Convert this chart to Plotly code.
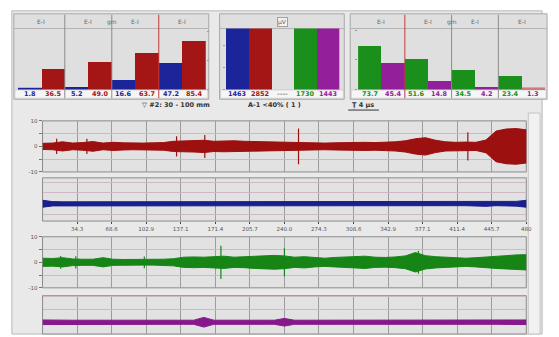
import plotly.graph_objects as go

# ---------------- data ----------------
header_labels = ["E-I", "E-I", "gm", "E-I", "E-I"]
left_blue = [1.8, 5.2, 16.6, 47.2]
left_red = [36.5, 49.0, 63.7, 85.4]
mid_values = [1463, 2852, None, 1730, 1443]
mid_labels = ["1463", "2852", "----", "1730", "1443"]
right_green = [73.7, 51.6, 34.5, 23.4]
right_purple = [45.4, 14.8, 4.2, 1.3]

info_texts = ["\u25bd #2: 30 - 100 mm", "A-1 <40% ( 1 )", "\u0162 4 \u03bcs"]

x_tick_labels = ["34.3", "68.6", "102.9", "137.1", "171.4", "205.7", "240.0",
                 "274.3", "308.6", "342.9", "377.1", "411.4", "445.7", "480"]
x_tick_vals = [34.29, 68.57, 102.86, 137.14, 171.43, 205.71, 240.0,
               274.29, 308.57, 342.86, 377.14, 411.43, 445.71, 480.0]

env_time = list(range(0, 481, 10))
red_env = [1.2, 1.3, 1.8, 1.3, 1.5, 1.9, 1.3, 1.6, 1.4, 1.3, 1.3, 1.4, 1.5, 2.0,
           2.1, 2.2, 2.4, 2.0, 2.1, 2.2, 2.0, 1.9, 1.8, 1.7, 1.6, 1.7, 1.5, 1.4,
           1.3, 1.4, 1.5, 1.6, 1.6, 1.5, 1.6, 1.8, 2.2, 3.0, 3.4, 2.4, 1.8, 1.6,
           1.7, 1.6, 2.5, 6.0, 6.8, 7.0, 6.5]
blue_env = [1.6, 1.0, 0.9, 0.9, 0.9, 0.9, 0.9, 0.9, 0.9, 0.9, 1.2, 0.9, 0.9, 0.9,
            0.9, 0.9, 0.9, 0.9, 0.9, 0.9, 0.9, 0.9, 0.9, 0.9, 0.9, 0.9, 0.9, 1.1,
            0.9, 0.9, 0.9, 0.9, 0.9, 0.9, 0.9, 0.9, 0.9, 0.9, 0.9, 0.9, 0.9, 0.9,
            0.9, 0.9, 1.2, 0.9, 0.9, 1.1, 1.6]
green_env = [1.6, 1.5, 1.8, 1.3, 1.2, 1.2, 1.8, 1.2, 1.1, 1.1, 1.1, 1.1, 1.2, 1.4,
             2.0, 2.1, 2.0, 2.2, 2.4, 2.0, 2.1, 2.4, 2.6, 2.7, 2.5, 2.0, 2.2, 1.8,
             1.6, 1.9, 2.0, 2.2, 2.4, 2.0, 1.9, 2.1, 2.5, 3.8, 2.6, 2.2, 2.0, 1.7,
             1.6, 1.8, 2.0, 2.4, 2.6, 2.9, 3.0]
purple_env = [0.9, 0.8, 0.8, 0.8, 0.8, 0.8, 0.8, 0.8, 0.8, 0.8, 0.8, 0.8, 0.8, 0.8,
              0.8, 0.8, 1.9, 0.8, 0.8, 0.8, 0.8, 0.8, 0.8, 0.8, 1.5, 0.8, 0.8, 0.8,
              0.8, 0.8, 0.8, 0.8, 0.8, 0.8, 0.8, 0.8, 0.8, 0.8, 0.8, 0.8, 0.8, 0.8,
              0.8, 0.8, 0.8, 0.8, 0.8, 0.8, 0.9]
red_spike_t = [14, 44, 133, 161, 254, 422, 503, 510, 518, 528]
red_spike_amp = [3.0, 3.0, 4.0, 4.5, 7.0, 5.5, 9.5, 9.0, 9.5, 8.5]
green_spike_t = [18, 33, 101, 177, 240, 373]
green_spike_amp = [2.5, 2.4, 2.3, 6.5, 5.5, 4.5]

# ---------------- styles ----------------
W, H = 559, 337
RED, BLUE, GREEN, PURPLE = "#a41515", "#1c2499", "#1b8f1b", "#93209a"
TRED, TBLUE, TGREEN, TPURPLE = "#9c1010", "#1a1f8c", "#168516", "#86188c"


def px(x):
    return x / W


def py(y):
    return 1 - y / H


fig = go.Figure()

# bar panels
fig.add_trace(go.Bar(x=[0, 2, 4, 6], y=left_blue, marker_color=BLUE, width=1,
                     marker_line_width=0, xaxis="x", yaxis="y"))
fig.add_trace(go.Bar(x=[1, 3, 5, 7], y=left_red, marker_color=RED, width=1,
                     marker_line_width=0, xaxis="x", yaxis="y"))
mid_colors = [BLUE, RED, "#888888", GREEN, PURPLE]
fig.add_trace(go.Bar(x=list(range(5)), y=mid_values, marker_color=mid_colors, width=1,
                     marker_line_width=0, xaxis="x2", yaxis="y2"))
fig.add_trace(go.Bar(x=[0, 2, 4, 6], y=right_green, marker_color=GREEN, width=1,
                     marker_line_width=0, xaxis="x3", yaxis="y3"))
fig.add_trace(go.Bar(x=[1, 3, 5, 7], y=right_purple, marker_color=PURPLE, width=1,
                     marker_line_width=0, xaxis="x3", yaxis="y3"))


def band(env):
    xs = env_time + env_time[::-1]
    ys = list(env) + [-v for v in env[::-1]]
    return xs, ys


def spikes(ts, amps):
    xs, ys = [], []
    for t, a in zip(ts, amps):
        xs += [t, t, None]
        ys += [a, -a, None]
    return xs, ys


for env, col, ax in [(red_env, TRED, 4), (blue_env, TBLUE, 5),
                     (green_env, TGREEN, 6), (purple_env, TPURPLE, 7)]:
    xs, ys = band(env)
    fig.add_trace(go.Scatter(x=xs, y=ys, fill="toself", fillcolor=col, mode="lines",
                             line=dict(color=col, width=1), xaxis=f"x{ax}", yaxis=f"y{ax}",
                             hoverinfo="skip"))
for ts, amps, col, ax in [(red_spike_t, red_spike_amp, TRED, 4),
                          (green_spike_t, green_spike_amp, TGREEN, 6)]:
    xs, ys = spikes(ts, amps)
    fig.add_trace(go.Scatter(x=xs, y=ys, mode="lines", line=dict(color=col, width=1.2),
                             xaxis=f"x{ax}", yaxis=f"y{ax}", hoverinfo="skip"))

shapes = []
annotations = []

# global background
shapes.append(dict(type="rect", xref="paper", yref="paper", x0=px(12), x1=px(548),
                   y0=py(337), y1=py(8), fillcolor="#e9e9e9", line=dict(color="#b8b8b8", width=1),
                   layer="below"))
shapes.append(dict(type="rect", xref="paper", yref="paper", x0=px(534), x1=px(546),
                   y0=py(337), y1=py(112), fillcolor="#f1f1f1", line=dict(color="#c4c4c4", width=1),
                   layer="below"))

# bar panel frames
for (x0, x1) in [(14, 211), (222, 348), (354, 553)]:
    shapes.append(dict(type="rect", xref="paper", yref="paper", x0=px(x0), x1=px(x1),
                       y0=py(98), y1=py(11), fillcolor="#dfdfdf",
                       line=dict(color="#a8a8a8", width=1), layer="below"))
    shapes.append(dict(type="rect", xref="paper", yref="paper", x0=px(x0 + 1), x1=px(x1 - 1),
                       y0=py(97), y1=py(88.5), fillcolor="#f6f6f6",
                       line=dict(color="#c0c0c0", width=0.6), layer="below"))
    shapes.append(dict(type="line", xref="paper", yref="paper", x0=px(x0), x1=px(x1),
                       y0=py(26), y1=py(26), line=dict(color="#b4b4b4", width=1), layer="below"))

# threshold lines at the baseline
for xr, x0, x1 in [("x", -0.5, 7.5), ("x3", -0.5, 7.5)]:
    shapes.append(dict(type="line", xref=xr, yref="y" if xr == "x" else "y3", x0=x0, x1=x1,
                       y0=2.2, y1=2.2, line=dict(color="#d04040", width=1), layer="below"))

# separators in bar panels
for xr, pos, col in [("x", 1.5, "#8c8c8c"), ("x", 3.5, "#8c8c8c"), ("x", 5.5, "#c23a3a"),
                     ("x3", 1.5, "#c23a3a"), ("x3", 3.5, "#8c8c8c"), ("x3", 5.5, "#8c8c8c")]:
    shapes.append(dict(type="line", xref=xr, yref="paper", x0=pos, x1=pos,
                       y0=py(97), y1=py(12), line=dict(color=col, width=1)))

# header labels
for xr in ["x", "x3"]:
    for lab, pos in zip(header_labels, [0.5, 2.5, 3.5, 4.5, 6.5]):
        annotations.append(dict(xref=xr, yref="paper", x=pos, y=py(19), text=lab,
                                xanchor="center", yanchor="middle",
                                showarrow=False, font=dict(size=6, color="#666666")))
annotations.append(dict(xref="x2", yref="paper", x=2, y=py(19), text="\u03bcV", showarrow=False,
                        xanchor="center", yanchor="middle",
                        font=dict(size=6, color="#666666"), bgcolor="#f2f2f2",
                        bordercolor="#a0a0a0", borderwidth=1, borderpad=0))

# value labels under bars
def add_label(xr, x, v, col):
    annotations.append(dict(xref=xr, yref="paper", x=x, y=py(93), text=f"<b>{v}</b>",
                            xanchor="center", yanchor="middle",
                            showarrow=False, font=dict(size=6.5, color=col)))


for i, v in enumerate(left_blue):
    add_label("x", 2 * i, v, BLUE)
for i, v in enumerate(left_red):
    add_label("x", 2 * i + 1, v, RED)
for i, v in enumerate(mid_labels):
    add_label("x2", i, v, mid_colors[i])
for i, v in enumerate(right_green):
    add_label("x3", 2 * i, v, GREEN)
for i, v in enumerate(right_purple):
    add_label("x3", 2 * i + 1, v, PURPLE)

# info line
for txt, xc in zip(info_texts, [178, 277, 367]):
    annotations.append(dict(xref="paper", yref="paper", x=px(xc), y=py(104), text=f"<b>{txt}</b>",
                            xanchor="center", yanchor="middle",
                            showarrow=False, font=dict(size=6.5, color="#333333")))
shapes.append(dict(type="line", xref="paper", yref="paper", x0=px(352), x1=px(383),
                   y0=py(109), y1=py(109), line=dict(color="#333333", width=1)))

# trace panel backgrounds
trace_panels = {4: (120, 172), 5: (178, 222), 6: (238, 290), 7: (298, 337)}
for ax, (t, b) in trace_panels.items():
    shapes.append(dict(type="rect", xref="paper", yref="paper", x0=px(43), x1=px(532),
                       y0=py(b), y1=py(t), fillcolor="#e2e2e2",
                       line=dict(color="#8c8c8c", width=1), layer="below"))

layout = dict(
    width=W, height=H, margin=dict(l=0, r=0, t=0, b=0),
    paper_bgcolor="white", plot_bgcolor="rgba(0,0,0,0)",
    showlegend=False, barmode="overlay", bargap=0,
    font=dict(family="DejaVu Sans", size=6, color="#444444"),
    shapes=shapes, annotations=annotations,
)

bar_axes = {
    "": ((18, 208), (-0.5, 7.5), (0, 106)),
    "2": ((228, 343), (-0.5, 4.5), (0, 1400)),
    "3": ((362, 551), (-0.5, 7.5), (0, 103)),
}
for k, ((x0, x1), xr, yr) in bar_axes.items():
    layout[f"xaxis{k}"] = dict(domain=[px(x0), px(x1)], range=list(xr), visible=False,
                               anchor=f"y{k}", fixedrange=True)
    layout[f"yaxis{k}"] = dict(domain=[py(88), py(26)], range=list(yr), showgrid=False,
                               zeroline=False, showticklabels=False, ticks="outside",
                               ticklen=2, tickcolor="#999999", anchor=f"x{k}",
                               side="right" if k == "" else "left", fixedrange=True)

trace_ranges = {4: [-10, 10], 5: [-8, 12], 6: [-10, 10], 7: [-4.6, 10.4]}
for ax, (t, b) in trace_panels.items():
    layout[f"xaxis{ax}"] = dict(domain=[px(43), px(532)], range=[0, 480], anchor=f"y{ax}",
                                tickvals=x_tick_vals, ticktext=x_tick_labels,
                                showticklabels=(ax == 5), ticks="outside" if ax == 5 else "",
                                ticklen=2, tickfont=dict(size=5.5, color="#555555"),
                                showgrid=True, gridcolor="#9c9c9c", gridwidth=1,
                                zeroline=False, showline=False, fixedrange=True)
    show_y = ax in (4, 6)
    layout[f"yaxis{ax}"] = dict(domain=[py(b), py(t)], range=trace_ranges[ax], anchor=f"x{ax}",
                                tickvals=[-10, -5, 0, 5, 10],
                                ticktext=["-10", "", "0", "", "10"],
                                showticklabels=show_y, ticks="outside" if show_y else "",
                                ticklen=3, tickcolor="#777777",
                                tickfont=dict(size=5.5, color="#555555"),
                                showgrid=True, gridcolor="#d2b8c6", gridwidth=1,
                                zeroline=False, showline=False, fixedrange=True)

fig.update_layout(**layout)
fig.write_html("out.html", include_plotlyjs=True, config={"displayModeBar": False},
               post_script="document.body.style.margin='0';")
